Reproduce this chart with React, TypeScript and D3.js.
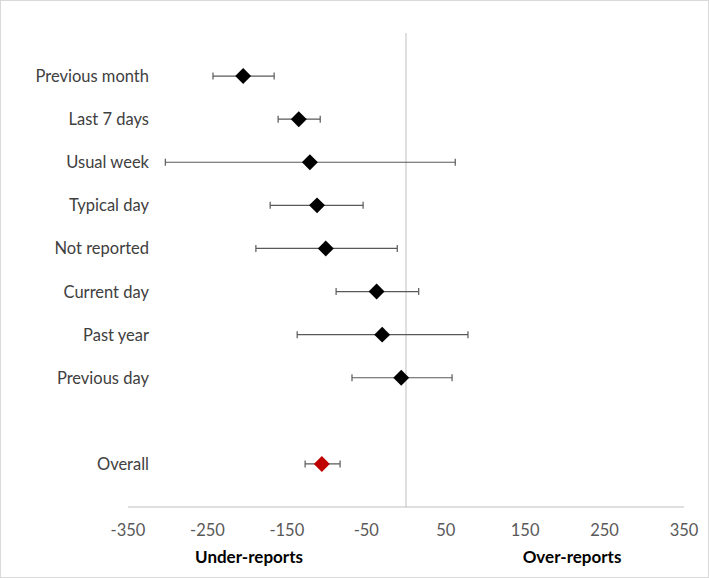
import React from 'react';
import * as d3 from 'd3';

// categories top to bottom ("" is the empty gap row before Overall)
const categories = [
  'Previous month',
  'Last 7 days',
  'Usual week',
  'Typical day',
  'Not reported',
  'Current day',
  'Past year',
  'Previous day',
  '',
  'Overall',
];
const means = [-205, -135, -121, -112, -101, -37, -30, -6, null, -106];
const lower = [-243, -161, -303, -171, -189, -88, -137, -68, null, -127];
const upper = [-166, -108, 62, -54, -11, 16, 78, 58, null, -83];
const xTicks = [-350, -250, -150, -50, 50, 150, 250, 350];

const W = 709;
const H = 578;
const FONT = 'Lato, "Open Sans", sans-serif';

const App: React.FC = () => {
  const x = d3.scaleLinear().domain([-350, 350]).range([128, 684]);
  const y = d3.scalePoint<string>().domain(categories.map((c, i) => c || `gap${i}`)).range([33, 507]).padding(1);
  const key = (i: number) => categories[i] || `gap${i}`;
  const diamond = d3.symbol().type(d3.symbolDiamond2).size(162)();

  return (
    <svg width={W} height={H} style={{ position: 'absolute', left: 0, top: 0 }} fontFamily={FONT}>
      <rect x={0.5} y={0.5} width={W - 1} height={H - 1} fill="#fff" stroke="#d9d9d9" />

      {/* axes */}
      <line x1={x(-350)} x2={x(350)} y1={507} y2={507} stroke="#bfbfbf" />
      <line x1={x(0)} x2={x(0)} y1={33} y2={507} stroke="#bfbfbf" />
      {xTicks.map((t) => (
        <text key={t} x={x(t)} y={530} textAnchor="middle" dominantBaseline="central" fontSize={16.5} fill="#595959">
          {t}
        </text>
      ))}
      <text x={249} y={556} textAnchor="middle" dominantBaseline="central" fontSize={17} fontWeight="bold" fill="#000">
        Under-reports
      </text>
      <text x={572} y={556} textAnchor="middle" dominantBaseline="central" fontSize={17} fontWeight="bold" fill="#000">
        Over-reports
      </text>

      {/* category labels */}
      {categories.map((c, i) =>
        c ? (
          <text key={c} x={149} y={y(key(i))} textAnchor="end" dominantBaseline="central" fontSize={16.5} fill="#404040">
            {c}
          </text>
        ) : null
      )}

      {/* error bars and points */}
      {categories.map((c, i) => {
        if (means[i] == null) return null;
        const cy = y(key(i)) as number;
        const lo = x(lower[i] as number);
        const hi = x(upper[i] as number);
        return (
          <g key={`pt${i}`}>
            <line x1={lo} x2={hi} y1={cy} y2={cy} stroke="#595959" strokeWidth={1.2} />
            <line x1={lo} x2={lo} y1={cy - 3.5} y2={cy + 3.5} stroke="#595959" strokeWidth={1.2} />
            <line x1={hi} x2={hi} y1={cy - 3.5} y2={cy + 3.5} stroke="#595959" strokeWidth={1.2} />
            <path
              d={diamond as string}
              transform={`translate(${x(means[i] as number)},${cy})`}
              fill={c === 'Overall' ? '#c00000' : '#000'}
            />
          </g>
        );
      })}
    </svg>
  );
};

export default App;
